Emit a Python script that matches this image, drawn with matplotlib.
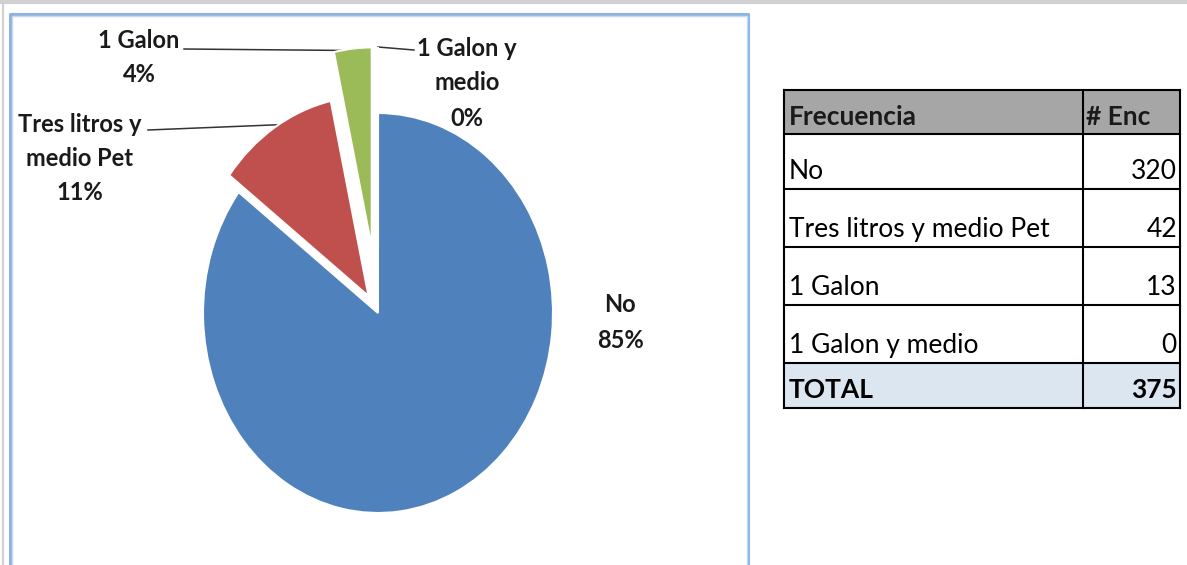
import matplotlib
matplotlib.use("Agg")
import matplotlib.pyplot as plt
import numpy as np
from matplotlib.patches import Rectangle

# ---------------- data ----------------
categories = ["No", "Tres litros y medio Pet", "1 Galon", "1 Galon y medio"]
counts = [320, 42, 13, 0]
pct_labels = ["85%", "11%", "4%", "0%"]
pie_labels = ["No", "Tres litros y\nmedio Pet", "1 Galon", "1 Galon y\nmedio"]
header = ["Frecuencia", "# Enc"]
total_label = "TOTAL"
total_value = 375

colors = ["#4F81BD", "#C0504D", "#9BBB59", "#8064A2"]
explode = [0, 0.1, 0.33, 0.33]

plt.rcParams['font.family'] = ['Lato', 'DejaVu Sans']

W, H = 1187, 565
fig = plt.figure(figsize=(W / 100, H / 100), dpi=100)

# background pixel-coordinate axes
bg = fig.add_axes([0, 0, 1, 1])
bg.set_xlim(0, W)
bg.set_ylim(H, 0)
bg.axis('off')

# window-like top gray line and chart border
bg.plot([0, W], [1.5, 1.5], color="#d0d0d0", lw=3, solid_capstyle='butt')
bg.plot([3, 3], [3, H], color="#d0d0d0", lw=1.5)
bg.plot([10, 10, 748, 748], [H, 14, 14, H], color="#8db3e2", lw=2.2)
bg.plot([11.5, 11.5, 746.5, 746.5], [H, 15.5, 15.5, H], color="#c6d9f0", lw=1)

# ---------------- pie ----------------
cx, cy = 378, 313   # pixel centre
rx, ry = 175, 200   # pixel radii

ax = fig.add_axes([0, 0, 1, 1])
wedges, _ = ax.pie(counts, explode=explode, colors=colors, startangle=90,
                   counterclock=False,
                   wedgeprops=dict(edgecolor='white', linewidth=1.5))
ax.set_aspect('auto')
ax.set_xlim(-cx / rx, (W - cx) / rx)
ax.set_ylim(-(H - cy) / ry, cy / ry)
ax.axis('off')
ax.patch.set_visible(False)


def to_px(w, ang_deg, r=1.0):
    x = w.center[0] + r * np.cos(np.radians(ang_deg))
    y = w.center[1] + r * np.sin(np.radians(ang_deg))
    return cx + rx * x, cy - ry * y


lab_fs = 17
lab_color = "#1a1a1a"

# label layout (pixel positions of text lines, leader start)
label_pos = {
    0: dict(x=620, y0=305, dy=35, leader=None),
    1: dict(x=80, y0=125, dy=34, leader=((148, 130), 121)),
    2: dict(x=139, y0=40, dy=34, leader=((184, 49), 100)),
    3: dict(x=467, y0=48, dy=35, leader=((414, 50), 90)),
}

for i, w in enumerate(wedges):
    info = label_pos[i]
    lines = pie_labels[i].split("\n") + [pct_labels[i]]
    for k, ln in enumerate(lines):
        bg.text(info["x"], info["y0"] + k * info["dy"], ln, ha='center', va='center',
                fontsize=lab_fs, fontweight='bold', color=lab_color)
    if info["leader"] is not None:
        (sx, sy), ang = info["leader"]
        ex, ey = to_px(w, ang)
        bg.plot([sx, ex], [sy, ey], color="#333333", lw=1.1, zorder=5)

# ---------------- table ----------------
xl, xm, xr = 784, 1083, 1180
row_y = [90, 134, 189, 247, 305, 363, 408]
tab_fs = 19
rows = [(c, str(v)) for c, v in zip(categories, counts)]

# fills
bg.add_patch(Rectangle((xl, row_y[0]), xr - xl, row_y[1] - row_y[0], facecolor="#a6a6a6", edgecolor='none'))
bg.add_patch(Rectangle((xl, row_y[5]), xr - xl, row_y[6] - row_y[5], facecolor="#dce6f1", edgecolor='none'))
# grid lines
for yy in row_y:
    bg.plot([xl, xr], [yy, yy], color="black", lw=1.5, solid_capstyle='projecting')
for xx in (xl, xm, xr):
    bg.plot([xx, xx], [row_y[0], row_y[-1]], color="black", lw=1.5, solid_capstyle='projecting')

# header
bg.text(xl + 5, row_y[1] - 9, header[0], ha='left', va='baseline', fontsize=tab_fs,
        fontweight='bold', color="#1a1a1a")
bg.text(xm + 3, row_y[1] - 9, header[1], ha='left', va='baseline', fontsize=tab_fs,
        fontweight='bold', color="#1a1a1a")
# body
for r, (c, v) in enumerate(rows):
    base = row_y[r + 2] - 10
    bg.text(xl + 5, base, c, ha='left', va='baseline', fontsize=tab_fs, color="black")
    bg.text(xr - 3, base, v, ha='right', va='baseline', fontsize=tab_fs, color="black")
# total
bg.text(xl + 5, row_y[6] - 10, total_label, ha='left', va='baseline', fontsize=tab_fs,
        fontweight='bold', color="black")
bg.text(xr - 3, row_y[6] - 10, str(total_value), ha='right', va='baseline', fontsize=tab_fs,
        fontweight='bold', color="black")

fig.savefig("out.png", dpi=100)
